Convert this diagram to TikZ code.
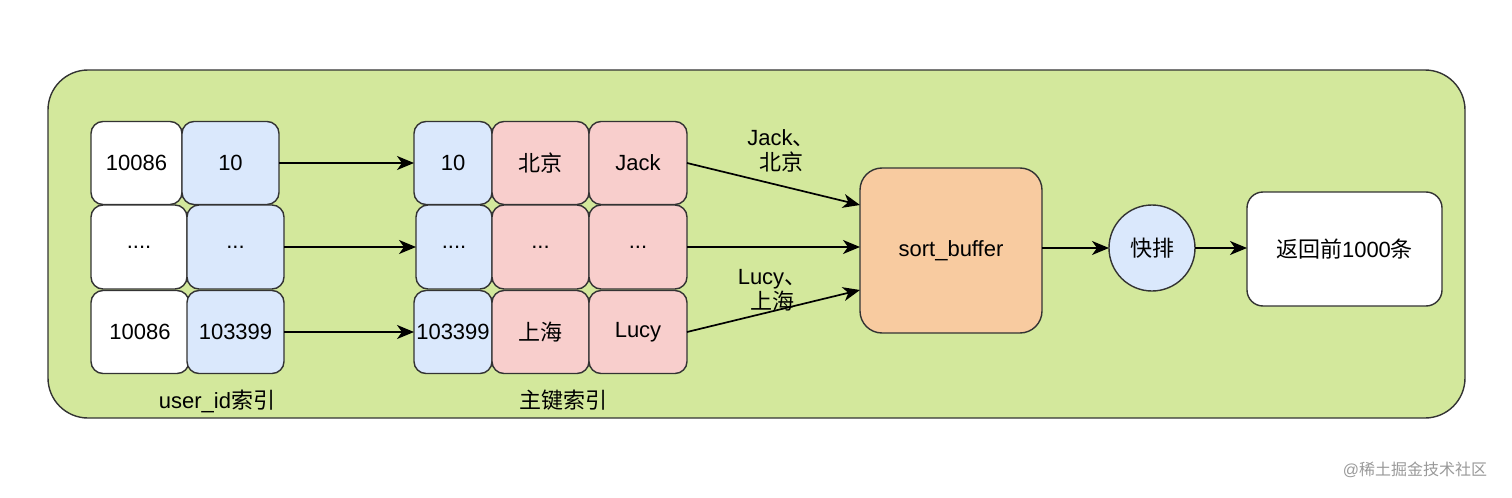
\documentclass[tikz,border=0pt]{standalone}
\usepackage{fontspec}
\setmainfont{Liberation Sans}
\newfontfamily\cjk{Noto Sans CJK SC}
\usetikzlibrary{arrows.meta}
\definecolor{bggreen}{HTML}{D3E89C}
\definecolor{cellblue}{HTML}{DAE8FC}
\definecolor{cellpink}{HTML}{F8CECC}
\definecolor{bufor}{HTML}{F8CBA0}
\definecolor{edge}{HTML}{333333}
\tikzset{
  cell/.style={draw=edge, line width=0.7pt, rounded corners=6pt, inner sep=0pt, outer sep=0pt,
    font=\fontsize{11}{13}\selectfont, text=black},
  wcell/.style={cell, fill=white},
  bcell/.style={cell, fill=cellblue},
  pcell/.style={cell, fill=cellpink},
  conn/.style={draw=black, line width=0.85pt, -{Stealth[length=8.5pt,width=7pt,inset=2.5pt]}},
  lbl/.style={font=\fontsize{11}{12.5}\selectfont, inner sep=0pt, align=center},
}
\begin{document}
\begin{tikzpicture}[x=0.5pt,y=-0.5pt]
\useasboundingbox (0,0) rectangle (1512,498);
\draw[draw=edge, line width=0.7pt, fill=bggreen, rounded corners=20pt] (48,70) rectangle (1465,418);
% user_id index
\node[wcell, minimum width=45.5pt, minimum height=41.5pt] (w1) at (136.5,163) {10086};
\node[wcell, minimum width=48pt, minimum height=42pt] (w2) at (139,247) {....};
\node[wcell, minimum width=49pt, minimum height=41.5pt] (w3) at (140,332) {10086};
\node[bcell, minimum width=48.5pt, minimum height=41.5pt] (b1) at (230.5,163) {10};
\node[bcell, minimum width=48.5pt, minimum height=42pt] (b2) at (235.5,247) {...};
\node[bcell, minimum width=48.5pt, minimum height=41.5pt] (b3) at (235.5,332) {103399};
\node[font=\fontsize{11}{13}\selectfont, inner sep=0pt] (l1) at (217,401) {user\_id{\cjk 索引}};
% primary index
\node[bcell, minimum width=39pt, minimum height=41.5pt] (m1) at (453,163) {10};
\node[bcell, minimum width=38pt, minimum height=42pt] (m2) at (454,247) {....};
\node[bcell, minimum width=39pt, minimum height=41.5pt] (m3) at (453,332) {103399};
\node[pcell, minimum width=48.5pt, minimum height=41.5pt] (p1) at (540.5,163) {\cjk 北京};
\node[pcell, minimum width=48.5pt, minimum height=42pt] (p2) at (540.5,247) {...};
\node[pcell, minimum width=48.5pt, minimum height=41.5pt] (p3) at (540.5,332) {\cjk 上海};
\node[pcell, minimum width=49pt, minimum height=41.5pt] (q1) at (638,163) {Jack};
\node[pcell, minimum width=49pt, minimum height=42pt] (q2) at (638,247) {...};
\node[pcell, minimum width=49pt, minimum height=41.5pt] (q3) at (638,332) {Lucy};
\node[font=\fontsize{11}{13}\selectfont, inner sep=0pt] (l2) at (563,400) {\cjk 主键索引};
% sort buffer
\node[cell, fill=bufor, rounded corners=11pt, minimum width=91pt, minimum height=82.5pt] (sb) at (951,250.5) {sort\_buffer};
\node[cell, fill=cellblue, circle, minimum size=43pt] (qs) at (1152,248) {\cjk 快排};
\node[wcell, rounded corners=8pt, minimum width=97.5pt, minimum height=57pt] (ret) at (1344.5,249) {{\cjk 返回前}1000{\cjk 条}};
% connectors
\draw[conn] (b1.east) -- (m1.west);
\draw[conn] (b2.east) -- (m2.west);
\draw[conn] (b3.east) -- (m3.west);
\coordinate (sbt) at (860,205);
\coordinate (sbb) at (860,290);
\draw[conn] (q1.east) -- (sb.west |- sbt);
\draw[conn] (q2.east) -- (sb.west |- q2.east);
\draw[conn] (q3.east) -- (sb.west |- sbb);
\draw[conn] (sb.east |- qs.west) -- (qs.west);
\draw[conn] (qs.east) -- (ret.west |- qs.east);
\node[lbl] (t1) at (781,151) {Jack{\cjk 、}\\{\cjk 北京}};
\node[lbl] (t2) at (772,290) {Lucy{\cjk 、}\\{\cjk 上海}};
% watermark
\node[font=\fontsize{8}{9}\selectfont, text=black!40, inner sep=0pt] (wm) at (1415,470) {@{\cjk 稀土掘金技术社区}};
\end{tikzpicture}
\end{document}
